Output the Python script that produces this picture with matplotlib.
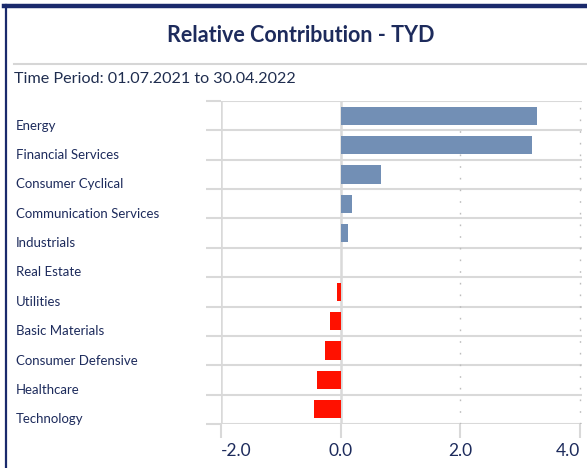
import matplotlib
matplotlib.use("Agg")
import matplotlib.pyplot as plt
import matplotlib.transforms as mtransforms
from matplotlib.lines import Line2D
import numpy as np

plt.rcParams['font.family'] = ['Lato', 'DejaVu Sans']

categories = ["Energy", "Financial Services", "Consumer Cyclical", "Communication Services",
              "Industrials", "Real Estate", "Utilities", "Basic Materials",
              "Consumer Defensive", "Healthcare", "Technology"]
values = [3.27, 3.20, 0.67, 0.18, 0.12, 0.01, -0.06, -0.18, -0.26, -0.40, -0.45]
xticks = [-2.0, 0.0, 2.0, 4.0]
xtick_labels = ["-2.0", "0.0", "2.0", "4.0"]
title = "Relative Contribution - TYD"
subtitle = "Time Period: 01.07.2021 to 30.04.2022"

NAVY = "#1d2b5c"
GRID = "#d9d9d9"
POS = "#728fb5"
NEG = "#ff1100"

W, H = 587, 468
fig = plt.figure(figsize=(W / 100, H / 100), dpi=100)
fig.patch.set_facecolor("white")

def fx(px):
    return px / W

def fy(py):
    return 1 - py / H

# frame lines
fig.add_artist(Line2D([fx(4), 1], [fy(6), fy(6)], color="#1a2a6c", lw=3.2, transform=fig.transFigure))
fig.add_artist(Line2D([fx(5.5), fx(5.5)], [fy(5), 0], color="#1a2a6c", lw=1.6, transform=fig.transFigure))
# separator
fig.add_artist(Line2D([fx(14), 1], [fy(63.5), fy(63.5)], color="#d6d6d6", lw=1.5, transform=fig.transFigure))

fig.text(fx(301), fy(36), title, ha="center", va="center", fontsize=15.5, fontweight="bold", color=NAVY)
fig.text(fx(14), fy(79), subtitle, ha="left", va="center", fontsize=11.6, color="#1f2d4f")

ax = fig.add_axes([fx(221), fy(424), (582 - 221) / W, (424 - 101) / H])
n = len(categories)
y = np.arange(n)
colors = [POS if v >= 0 else NEG for v in values]
ax.barh(y, values, height=0.62, color=colors, zorder=3)
ax.set_ylim(n - 0.5, -0.5)
ax.set_xlim(-2.0, 4.03)

# horizontal gridlines at band boundaries, with outward ticks
bounds = np.arange(n + 1) - 0.5
ax.set_yticks(bounds)
ax.set_yticklabels([])
for b in bounds:
    ax.axhline(b, color=GRID, lw=1.5, zorder=1)
ax.tick_params(axis="y", length=10.5, width=1.5, color=GRID, direction="out")

# category labels
trans = mtransforms.blended_transform_factory(fig.transFigure, ax.transData)
for i, c in enumerate(categories):
    ax.text(fx(16), i + 0.34, c, transform=trans, ha="left", va="center",
            fontsize=9.5, color=NAVY, clip_on=False)

# x axis
ax.set_xticks(xticks)
ax.set_xticklabels(xtick_labels)
ax.tick_params(axis="x", length=10, width=1.5, color=GRID, direction="out",
               labelsize=12.5, labelcolor=NAVY, pad=4)
lbls = ax.get_xticklabels()
lbls[0].set_ha("left")
lbls[-1].set_ha("right")
for xv in xticks:
    if xv <= 0:
        ax.axvline(xv, color=GRID, lw=1.8, zorder=2)
    else:
        ax.axvline(xv, color="#bdbdbd", lw=1.0, linestyle=(0, (1.2, 7.2)), zorder=2)

for s in ax.spines.values():
    s.set_visible(False)

fig.savefig("out.png", dpi=100, facecolor="white")
